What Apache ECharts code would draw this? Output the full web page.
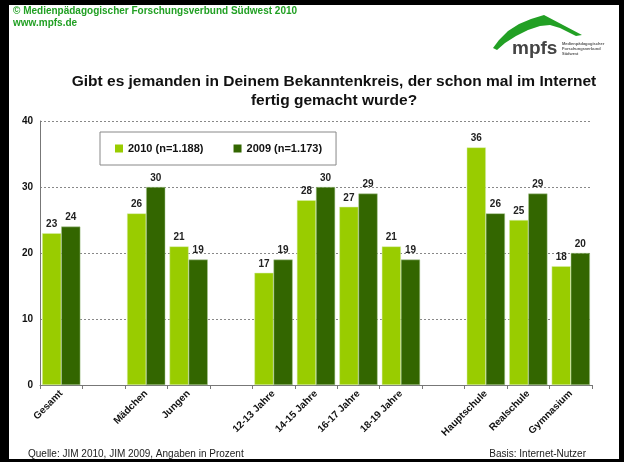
<!DOCTYPE html>
<html>
<head>
<meta charset="utf-8">
<script src="https://cdn.jsdelivr.net/npm/echarts@6/dist/echarts.min.js"></script>
<style>
  html, body { margin: 0; padding: 0; background: #000; }
  #chart { width: 624px; height: 462px; }
</style>
</head>
<body>
<div id="chart"></div>
<script>
// Kategorien (leere Einträge = Abstände zwischen den Gruppen)
var categories = ['Gesamt', '', 'Mädchen', 'Jungen', '', '12-13 Jahre', '14-15 Jahre', '16-17 Jahre', '18-19 Jahre', '', 'Hauptschule', 'Realschule', 'Gymnasium'];
var values2010 = [23, null, 26, 21, null, 17, 28, 27, 21, null, 36, 25, 18];
var values2009 = [24, null, 30, 19, null, 19, 30, 29, 19, null, 26, 29, 20];
var seriesNames = ['2010 (n=1.188)', '2009 (n=1.173)'];
var yTicks = [0, 10, 20, 30, 40];

var font = '"Liberation Sans", Arial, sans-serif';
var chart = echarts.init(document.getElementById('chart'));

// Logo-Bogen
var roof = [[493, 48], [499, 40], [508, 31], [519, 24], [531, 19], [544, 15], [582, 35], [576, 36],
            [560, 28], [550, 25], [540, 26], [528, 30], [516, 36], [505, 43], [497, 50]];

chart.setOption({
    backgroundColor: '#000',
    textStyle: { fontFamily: font },
    title: {
        text: 'Gibt es jemanden in Deinem Bekanntenkreis, der schon mal im Internet\nfertig gemacht wurde?',
        left: 329,
        top: 67,
        textAlign: 'center',
        textStyle: { fontSize: 15.5, fontWeight: 'bold', color: '#111', lineHeight: 19, fontFamily: font }
    },
    legend: {
        data: seriesNames,
        left: 100,
        top: 132,
        orient: 'horizontal',
        itemWidth: 8,
        itemHeight: 8,
        itemGap: 30,
        padding: [11, 14, 11, 15],
        borderColor: '#888',
        borderWidth: 1,
        backgroundColor: '#fff',
        icon: 'rect',
        itemStyle: { borderWidth: 0 },
        textStyle: { fontSize: 11, fontWeight: 'bold', color: '#111', fontFamily: font }
    },
    grid: { left: 40, right: 32, top: 121, bottom: 77 },
    xAxis: {
        type: 'category',
        data: categories,
        axisLine: { lineStyle: { color: '#777' } },
        axisTick: { show: true, length: 4, lineStyle: { color: '#777' } },
        axisLabel: {
            interval: 0,
            rotate: 45,
            fontSize: 10,
            fontWeight: 'bold',
            color: '#111',
            margin: 7
        }
    },
    yAxis: {
        type: 'value',
        min: yTicks[0],
        max: yTicks[yTicks.length - 1],
        interval: 10,
        axisLine: { show: true, lineStyle: { color: '#777' } },
        axisTick: { show: false },
        axisLabel: { fontSize: 10, fontWeight: 'bold', color: '#111', margin: 7 },
        splitLine: { lineStyle: { color: '#888', type: [2, 2] } }
    },
    graphic: [
        { type: 'rect', shape: { x: 9, y: 5, width: 610, height: 454 }, style: { fill: '#fff' }, z: -10 },
        { type: 'text', x: 13, y: 6, style: { text: '© Medienpädagogischer Forschungsverbund Südwest 2010', font: 'bold 10px ' + font, fill: '#22a024' } },
        { type: 'text', x: 13, y: 18, style: { text: 'www.mpfs.de', font: 'bold 10px ' + font, fill: '#22a024' } },
        { type: 'polygon', shape: { points: roof }, style: { fill: '#22a024' } },
        { type: 'text', x: 512, y: 39, style: { text: 'mpfs', font: 'bold 19px ' + font, fill: '#444' } },
        { type: 'text', x: 562, y: 41, style: { text: 'Medienpädagogischer\nForschungsverbund\nSüdwest', font: 'bold 4px ' + font, fill: '#555', lineHeight: 5 } },
        { type: 'text', x: 28, y: 449, style: { text: 'Quelle: JIM 2010, JIM 2009, Angaben in Prozent', font: '10px ' + font, fill: '#222' } },
        { type: 'text', x: 586, y: 449, style: { text: 'Basis: Internet-Nutzer', font: '10px ' + font, fill: '#222', align: 'right' } }
    ],
    series: [
        {
            name: seriesNames[0],
            type: 'bar',
            data: values2010,
            barGap: '0%',
            barCategoryGap: '10%',
            itemStyle: { color: '#99cc00', borderColor: '#d8eeb0', borderWidth: 0.5 },
            label: { show: true, position: 'top', distance: 4, fontSize: 10, fontWeight: 'bold', color: '#222' }
        },
        {
            name: seriesNames[1],
            type: 'bar',
            data: values2009,
            barGap: '0%',
            barCategoryGap: '10%',
            itemStyle: { color: '#336600', borderColor: '#a8c890', borderWidth: 0.5 },
            label: { show: true, position: 'top', distance: 4, fontSize: 10, fontWeight: 'bold', color: '#222' }
        }
    ]
});
</script>
</body>
</html>
